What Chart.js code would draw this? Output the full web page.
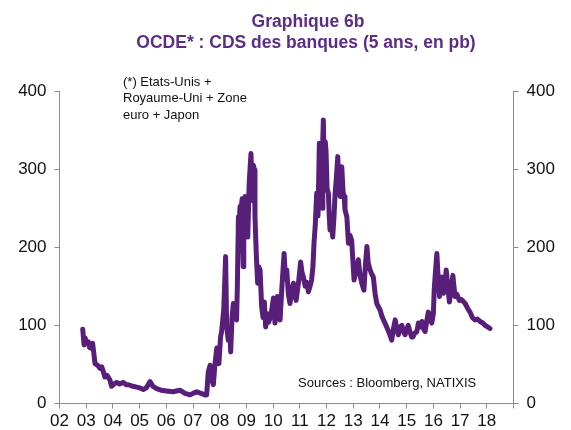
<!DOCTYPE html>
<html>
<head>
<meta charset="utf-8">
<script src="https://cdn.jsdelivr.net/npm/chart.js@4"></script>
<style>
  html, body { margin: 0; padding: 0; background: #fff; }
  #wrap { width: 571px; height: 430px; }
</style>
</head>
<body>
<div id="wrap"><canvas id="cdsChart" width="571" height="430"></canvas></div>
<script>
// dates as decimal years, values in pb
var years = [
  2002.87, 2002.92, 2002.96, 2003.00, 2003.08, 2003.12, 2003.17, 2003.24, 2003.28, 2003.33,
  2003.42, 2003.52, 2003.58, 2003.64, 2003.70, 2003.78, 2003.89, 2003.95, 2004.05, 2004.14,
  2004.25, 2004.39, 2004.50, 2004.58, 2004.75, 2004.89, 2005.00, 2005.14, 2005.25, 2005.39,
  2005.50, 2005.64, 2005.80, 2006.01, 2006.25, 2006.51, 2006.70, 2006.89, 2007.00, 2007.14,
  2007.30, 2007.45, 2007.51, 2007.57, 2007.64, 2007.70, 2007.76, 2007.82, 2007.89, 2007.93,
  2007.97, 2008.03, 2008.07, 2008.15, 2008.22, 2008.26, 2008.32, 2008.38, 2008.41, 2008.46,
  2008.51, 2008.57, 2008.63, 2008.66, 2008.70, 2008.72, 2008.73, 2008.75, 2008.76, 2008.78,
  2008.80, 2008.82, 2008.84, 2008.86, 2008.88, 2008.90, 2008.92, 2008.95, 2009.00, 2009.05,
  2009.10, 2009.17, 2009.22, 2009.26, 2009.30, 2009.32,
  2009.37, 2009.42, 2009.46, 2009.51, 2009.57, 2009.62, 2009.67, 2009.72, 2009.78, 2009.83,
  2009.88, 2009.95, 2010.01, 2010.07, 2010.12, 2010.16, 2010.21, 2010.26, 2010.33, 2010.41,
  2010.46, 2010.51, 2010.57, 2010.63, 2010.70, 2010.76, 2010.80, 2010.86, 2010.95, 2011.03,
  2011.08, 2011.13, 2011.20, 2011.26, 2011.32, 2011.38, 2011.44, 2011.49, 2011.53, 2011.58,
  2011.63, 2011.68, 2011.73, 2011.76, 2011.80, 2011.83, 2011.86, 2011.88, 2011.92, 2011.95,
  2011.98, 2012.02, 2012.07, 2012.10, 2012.13, 2012.18, 2012.23, 2012.28, 2012.32, 2012.37,
  2012.42, 2012.46, 2012.51, 2012.54, 2012.57, 2012.62, 2012.66, 2012.69, 2012.76, 2012.82,
  2012.88, 2012.94, 2013.00, 2013.03, 2013.10, 2013.19, 2013.25, 2013.32, 2013.40, 2013.45,
  2013.51, 2013.56, 2013.63, 2013.70, 2013.75, 2013.82, 2013.88, 2014.00, 2014.07, 2014.13,
  2014.20, 2014.25, 2014.35, 2014.44, 2014.50, 2014.57, 2014.63, 2014.69, 2014.75, 2014.82,
  2014.88, 2014.94, 2015.00, 2015.06, 2015.12, 2015.19, 2015.23, 2015.30, 2015.38, 2015.44,
  2015.50, 2015.57, 2015.63, 2015.69, 2015.75, 2015.81, 2015.87, 2015.94, 2016.00, 2016.03,
  2016.08, 2016.13, 2016.18, 2016.23, 2016.28, 2016.32, 2016.38, 2016.43, 2016.48, 2016.54,
  2016.60, 2016.66, 2016.73, 2016.77, 2016.81, 2016.88, 2016.97, 2017.05, 2017.19, 2017.28,
  2017.37, 2017.46, 2017.56, 2017.65, 2017.75, 2017.85, 2017.94, 2018.03, 2018.12
];
var cds = [
  95, 75, 84, 78, 79, 72, 71, 77, 66, 51,
  49, 45, 47, 41, 34, 36, 30, 22, 25, 27,
  25, 27, 24, 24, 22, 21, 20, 18, 20, 28,
  22, 19, 17, 16, 15, 17, 13, 11, 13, 15,
  13, 11, 11, 40, 49, 30, 24, 50, 71, 58,
  51, 85, 92, 120, 188, 98, 81, 95, 66, 110,
  128, 112, 107, 150, 239, 205, 200, 245, 252, 210,
  215, 255, 262, 205, 175, 225, 240, 265, 230, 213,
  280, 320, 260, 305, 299, 239,
  190, 154, 175, 171, 124, 110, 130, 98, 115, 104,
  109, 120, 135, 103, 125, 137, 115, 107, 150, 192,
  160, 171, 140, 128, 145, 154, 140, 132, 155, 181,
  168, 162, 150, 155, 143, 150, 158, 175, 205, 230,
  269, 240, 333, 255, 290, 250, 340, 363, 280, 335,
  324, 275, 269, 240, 222, 230, 213, 240, 269, 290,
  316, 275, 265, 300, 303, 270, 265, 248, 239, 205,
  215, 209, 175, 158, 170, 184, 165, 154, 145, 175,
  201, 180, 171, 165, 162, 140, 128, 120, 112, 107,
  102, 98, 90, 81, 95, 107, 95, 88, 98, 100,
  92, 88, 95, 100, 92, 85, 85, 90, 92, 103,
  98, 105, 96, 92, 105, 117, 108, 103, 115, 145,
  170, 192, 160, 137, 150, 162, 141, 150, 171, 150,
  130, 145, 164, 150, 137, 140, 132, 133, 128, 122,
  117, 110, 107, 108, 105, 103, 100, 98, 96
];
var xTickYears = [2002, 2003, 2004, 2005, 2006, 2007, 2008, 2009, 2010, 2011,
                  2012, 2013, 2014, 2015, 2016, 2017, 2018, 2019];
var yTicks = [0, 100, 200, 300, 400];
var titleLines = ['Graphique 6b', 'OCDE* : CDS des banques (5 ans, en pb)'];
var noteLines = ['(*) Etats-Unis +', 'Royaume-Uni + Zone', 'euro + Japon'];
var sourceText = 'Sources : Bloomberg, NATIXIS';

var FONT = 'Arial, "Liberation Sans", sans-serif';
var AXIS_GREY = '#8c8c8c';
var PURPLE = '#5c2d84';

var points = years.map(function (y, i) {
    return { x: y, y: cds[i] };
});

// title, note and sources are plain text painted over the chart
var textPlugin = {
    id: 'texts',
    afterDraw: function (chart) {
        var c = chart.ctx;
        c.save();
        c.fillStyle = PURPLE;
        c.font = 'bold 17.5px ' + FONT;
        c.textAlign = 'center';
        c.textBaseline = 'middle';
        c.fillText(titleLines[0], 308, 22);
        c.fillText(titleLines[1], 306, 43);

        c.fillStyle = '#111';
        c.font = '13px ' + FONT;
        c.textAlign = 'left';
        noteLines.forEach(function (line, i) {
            c.fillText(line, 123, 82 + i * 16.5);
        });
        c.fillText(sourceText, 298, 383);
        c.restore();
    }
};

function yAxis(pos, width) {
    return {
        type: 'linear',
        position: pos,
        min: 0,
        max: 400,
        afterBuildTicks: function (scale) {
            scale.ticks = yTicks.map(function (v) { return { value: v }; });
        },
        afterFit: function (scale) { scale.width = width; },
        border: { display: true, color: AXIS_GREY, width: 1 },
        grid: { drawOnChartArea: false, drawTicks: true, tickLength: 5, color: AXIS_GREY },
        ticks: {
            padding: 8,
            color: '#111',
            font: { family: FONT, size: 17 }
        }
    };
}

var ctx = document.getElementById('cdsChart').getContext('2d');
var cdsChart = new Chart(ctx, {
    type: 'line',
    data: {
        datasets: [{
            label: 'CDS banques OCDE',
            data: points,
            borderColor: '#571f79',
            borderWidth: 5,
            borderJoinStyle: 'round',
            borderCapStyle: 'round',
            pointRadius: 0,
            tension: 0,
            fill: false
        }]
    },
    plugins: [textPlugin],
    options: {
        responsive: false,
        animation: false,
        layout: { padding: { top: 91, left: 0, right: 0, bottom: 0 } },
        plugins: {
            legend: { display: false },
            tooltip: { enabled: false },
            title: { display: false }
        },
        scales: {
            x: {
                type: 'linear',
                min: 2002,
                max: 2019,
                afterBuildTicks: function (scale) {
                    scale.ticks = xTickYears.map(function (v) { return { value: v }; });
                },
                afterFit: function (scale) { scale.height = 26.5; },
                border: { display: true, color: AXIS_GREY, width: 1 },
                grid: { drawOnChartArea: false, drawTicks: true, tickLength: 5, color: AXIS_GREY },
                ticks: {
                    padding: 3,
                    maxRotation: 0,
                    autoSkip: false,
                    color: '#111',
                    font: { family: FONT, size: 17 },
                    callback: function (v) {
                        if (v >= 2019) return '';
                        return String(v % 100).padStart(2, '0');
                    }
                }
            },
            y: yAxis('left', 59.5),
            y2: yAxis('right', 57.5)
        }
    }
});
</script>
</body>
</html>
